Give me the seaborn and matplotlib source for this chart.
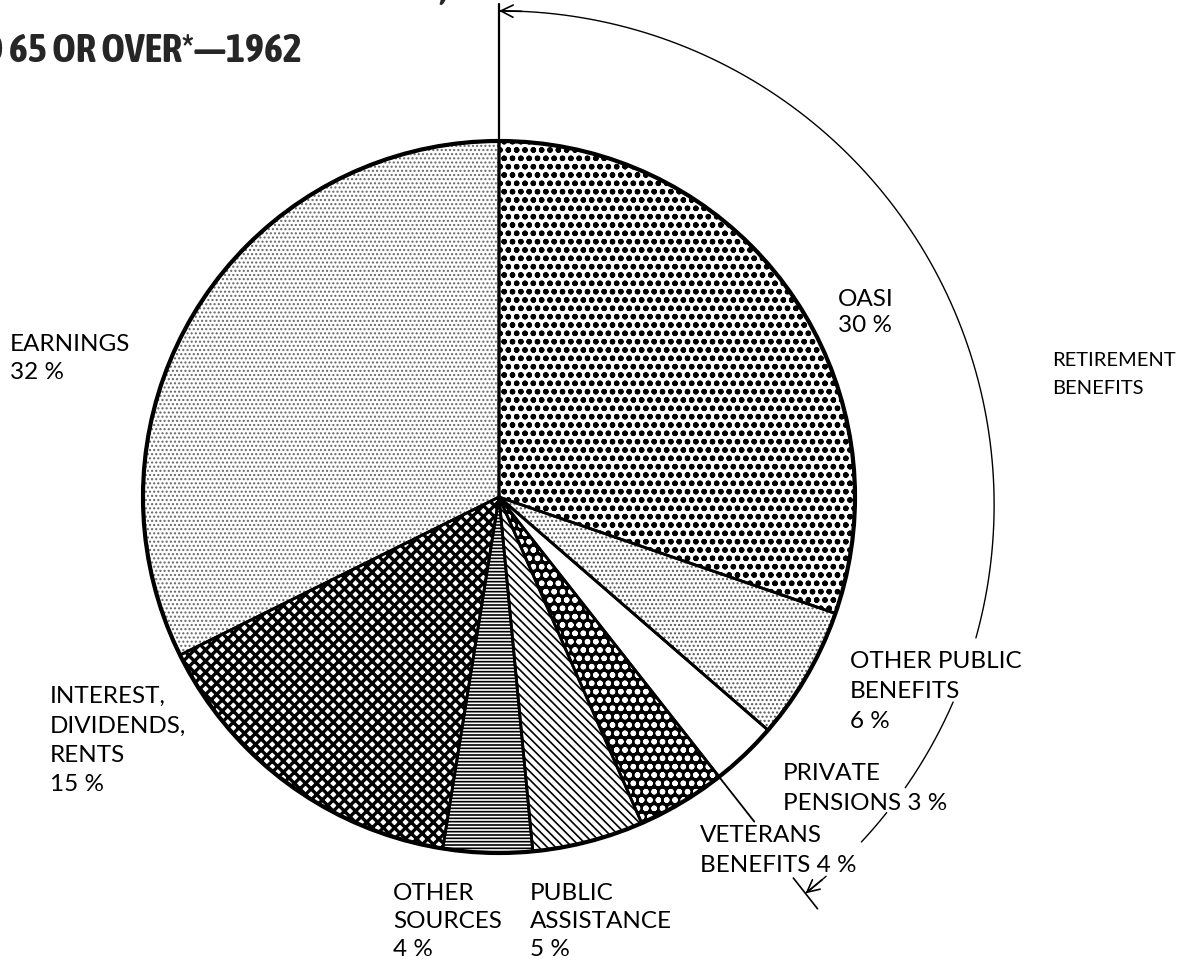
import numpy as np
import matplotlib
matplotlib.use("Agg")
import matplotlib.pyplot as plt
from matplotlib import font_manager as fm
import seaborn as sns

# ---------------- data ----------------
categories = ["OASI", "OTHER PUBLIC BENEFITS", "PRIVATE PENSIONS", "VETERANS BENEFITS",
              "PUBLIC ASSISTANCE", "OTHER SOURCES", "INTEREST, DIVIDENDS, RENTS", "EARNINGS"]
shares = [30, 6, 3, 4, 5, 4, 15, 32]
label_lines = [
    ["OASI", "30 %"],
    ["OTHER PUBLIC", "BENEFITS", "6 %"],
    ["PRIVATE", "PENSIONS 3 %"],
    ["VETERANS", "BENEFITS 4 %"],
    ["PUBLIC", "ASSISTANCE", "5 %"],
    ["OTHER", "SOURCES", "4 %"],
    ["INTEREST,", "DIVIDENDS,", "RENTS", "15 %"],
    ["EARNINGS", "32 %"],
]
bracket_label = ["RETIREMENT", "BENEFITS"]
n_retirement = 3  # slices spanned by the bracket
title_lines = ["RELATIVE IMPORTANCE OF SOURCES OF MONEY INCOME,",
               "PERSONS AGED 65 OR OVER*\u20141962"]

# ---------------- style ----------------
sns.set_theme(style="white")
plt.rcParams["font.family"] = ["Lato", "DejaVu Sans"]
plt.rcParams["hatch.linewidth"] = 1.6


def _is_cond(f):
    s = str(f.stretch).lower()
    return ("condensed" in s or "narrow" in s or "Condensed" in f.name or "Narrow" in f.name)


def _w(f):
    try:
        return int(f.weight)
    except Exception:
        return {"bold": 700, "heavy": 800, "black": 900, "semibold": 600,
                "demibold": 600}.get(str(f.weight).lower(), 400)


cands = [f for f in fm.fontManager.ttflist if _is_cond(f) and f.style == "normal"]
cands.sort(key=lambda f: (abs(_w(f) - 700), f.name))
if cands:
    title_prop = fm.FontProperties(fname=cands[0].fname)
    title_size = 29
else:
    title_prop = fm.FontProperties(family="DejaVu Sans", weight="bold")
    title_size = 24

W, H = 1177, 965
CX, CY, R = 499, 497, 356.0


def P(px, py):
    return ((px - CX) / R, (CY - py) / R)


fig = plt.figure(figsize=(W / 100, H / 100), dpi=100)
ax = fig.add_axes([0, 0, 1, 1])

hatches = ["oo..", "....", "", "oo..", "\\\\\\\\", "-----", "xxx", "...."]
faces = ["white", "white", "white", "black", "white", "white", "white", "white"]
hcolors = ["black", "#555555", "black", "white", "black", "black", "black", "#666666"]
hlw = [1.6, 1.0, 1.0, 1.6, 1.2, 1.2, 2.4, 1.0]

wedges, _ = ax.pie(shares, startangle=90, counterclock=False, radius=1.0,
                   wedgeprops=dict(linewidth=0))
for w, h, fc, hc, lw in zip(wedges, hatches, faces, hcolors, hlw):
    w.set_facecolor(fc)
    w.set_edgecolor(hc)
    w.set_linewidth(0)
    w.set_hatch(h)
    if hasattr(w, "set_hatch_linewidth"):
        w.set_hatch_linewidth(lw)

outline, _ = ax.pie(shares, startangle=90, counterclock=False, radius=1.0,
                    colors=["none"] * len(shares),
                    wedgeprops=dict(linewidth=2.0, edgecolor="black"))
ax.add_patch(plt.Circle((0, 0), 1.0, fill=False, lw=3.0, ec="black"))

ax.set_xlim(-CX / R, (W - CX) / R)
ax.set_ylim(-(H - CY) / R, CY / R)
ax.set_aspect("equal", adjustable="box")
ax.axis("off")

# boundary angles from data
total = float(sum(shares))
cum = np.cumsum(shares) / total
bound_deg = 90 - 360 * cum

# leader line: extension of private pensions / veterans boundary
a = np.deg2rad(bound_deg[2])
ax.plot([0.93 * np.cos(a), 1.16 * np.cos(a)], [0.93 * np.sin(a), 1.16 * np.sin(a)],
        color="black", lw=1.3)

# vertical line from centre to top
ax.plot([0, 0], [0, 1.385], color="black", lw=1.6)

# retirement bracket arc
acx, acy, ar = 1 / R, -8 / R, 1.388
end_deg = bound_deg[n_retirement - 1]
segments = [(90, -15.6), (-23.5, -34.9), (-38.5, -43.0)]
for s, e in segments:
    t = np.deg2rad(np.linspace(s, e, 200))
    ax.plot(acx + ar * np.cos(t), acy + ar * np.sin(t), color="black", lw=1.0)
t = np.deg2rad(np.linspace(-48.7, end_deg, 30))
ax.plot(acx + ar * np.cos(t), acy + ar * np.sin(t), color="black", lw=1.0)
te = np.deg2rad(end_deg)
tb = np.deg2rad(end_deg + 2.5)
ax.annotate("", xy=(acx + ar * np.cos(te), acy + ar * np.sin(te)),
            xytext=(acx + ar * np.cos(tb), acy + ar * np.sin(tb)),
            arrowprops=dict(arrowstyle="->", lw=1.2, color="black",
                            mutation_scale=22, shrinkA=0, shrinkB=0))
ax.plot([acx + (ar - 0.055) * np.cos(te), acx + (ar + 0.055) * np.cos(te)],
        [acy + (ar - 0.055) * np.sin(te), acy + (ar + 0.055) * np.sin(te)],
        color="black", lw=1.2)
t1 = np.deg2rad(87.5)
ax.annotate("", xy=(0.0, acy + ar), xytext=(acx + ar * np.cos(t1), acy + ar * np.sin(t1)),
            arrowprops=dict(arrowstyle="->", lw=1.2, color="black",
                            mutation_scale=22, shrinkA=0, shrinkB=0))

# slice labels (left x, first baseline, line spacing) in pixels
label_pos = [
    (838, 306, 26),
    (850, 668, 30),
    (783, 780, 30),
    (700, 842, 30),
    (530, 900, 28),
    (393, 900, 28),
    (50, 703, 29.5),
    (10, 351, 28),
]
fs = 17.5
for lines, (lx, ly, dy) in zip(label_lines, label_pos):
    for i, line in enumerate(lines):
        x, y = P(lx, ly + i * dy)
        ax.text(x, y, line, fontsize=fs, ha="left", va="baseline", color="black")

for i, line in enumerate(bracket_label):
    x, y = P(1052, 366 + i * 28)
    ax.text(x, y, line, fontsize=14.5, ha="left", va="baseline", color="black")

# title (partly cut off by the frame, as in the source)
x, y = P(447, 0)
ax.text(x, y, title_lines[0], fontproperties=title_prop, fontsize=title_size,
        ha="right", va="baseline")
x, y = P(302, 62)
ax.text(x, y, title_lines[1], fontproperties=title_prop, fontsize=title_size,
        ha="right", va="baseline")

fig.savefig("out.png", dpi=100)
